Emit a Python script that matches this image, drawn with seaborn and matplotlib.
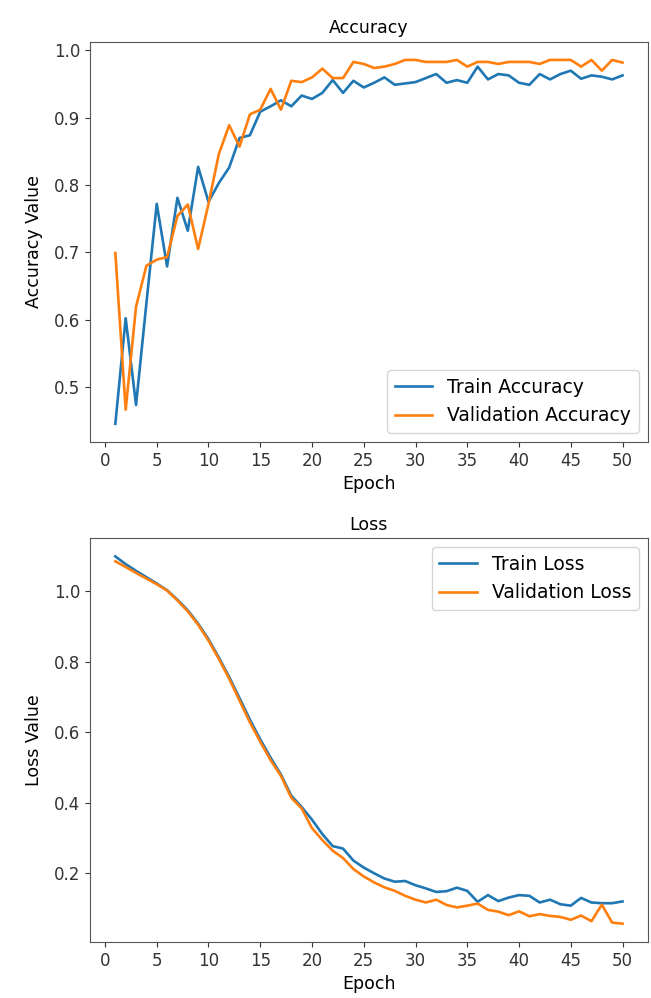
import numpy as np
import pandas as pd
import matplotlib
matplotlib.use("Agg")
import matplotlib.pyplot as plt
from matplotlib.ticker import MultipleLocator
import seaborn as sns

epochs = list(range(1, 51))

train_acc = [0.445, 0.602, 0.473, 0.624, 0.772, 0.679, 0.781, 0.732, 0.827, 0.775,
             0.803, 0.826, 0.870, 0.874, 0.909, 0.917, 0.926, 0.917, 0.933, 0.928,
             0.937, 0.956, 0.937, 0.955, 0.945, 0.952, 0.960, 0.949, 0.951, 0.953,
             0.959, 0.965, 0.952, 0.956, 0.952, 0.976, 0.957, 0.965, 0.963, 0.952,
             0.949, 0.965, 0.957, 0.965, 0.970, 0.958, 0.963, 0.961, 0.957, 0.963]

val_acc = [0.699, 0.466, 0.619, 0.680, 0.689, 0.693, 0.754, 0.771, 0.705, 0.772,
           0.846, 0.889, 0.857, 0.905, 0.912, 0.943, 0.912, 0.955, 0.953, 0.960,
           0.973, 0.959, 0.959, 0.983, 0.980, 0.974, 0.976, 0.980, 0.986, 0.986,
           0.983, 0.983, 0.983, 0.986, 0.976, 0.983, 0.983, 0.980, 0.983, 0.983,
           0.983, 0.980, 0.986, 0.986, 0.986, 0.976, 0.986, 0.970, 0.986, 0.982]

train_loss = [1.099, 1.077, 1.058, 1.040, 1.022, 1.003, 0.976, 0.946, 0.908, 0.864,
              0.812, 0.757, 0.697, 0.636, 0.580, 0.528, 0.480, 0.420, 0.388, 0.352,
              0.311, 0.277, 0.270, 0.236, 0.216, 0.200, 0.185, 0.176, 0.178, 0.166,
              0.157, 0.147, 0.149, 0.159, 0.150, 0.119, 0.138, 0.121, 0.131, 0.138,
              0.136, 0.117, 0.125, 0.112, 0.108, 0.130, 0.117, 0.115, 0.115, 0.120]

val_loss = [1.085, 1.069, 1.052, 1.036, 1.020, 1.002, 0.974, 0.943, 0.905, 0.860,
            0.808, 0.752, 0.690, 0.628, 0.573, 0.521, 0.476, 0.414, 0.384, 0.328,
            0.294, 0.264, 0.243, 0.212, 0.191, 0.174, 0.160, 0.150, 0.136, 0.125,
            0.117, 0.125, 0.110, 0.103, 0.108, 0.114, 0.096, 0.091, 0.081, 0.092,
            0.078, 0.084, 0.079, 0.076, 0.068, 0.080, 0.064, 0.111, 0.060, 0.057]

acc_labels = ["Train Accuracy", "Validation Accuracy"]
loss_labels = ["Train Loss", "Validation Loss"]
colors = ["#1f77b4", "#ff7f0e"]


def long_frame(series, labels):
    parts = [pd.DataFrame({"Epoch": epochs, "value": vals, "series": lab})
             for vals, lab in zip(series, labels)]
    return pd.concat(parts, ignore_index=True)


acc_df = long_frame([train_acc, val_acc], acc_labels)
loss_df = long_frame([train_loss, val_loss], loss_labels)

plt.rcParams["font.family"] = ["DejaVu Sans"]
fig = plt.figure(figsize=(6.51, 9.98), dpi=100)
ax1 = fig.add_axes([0.1382, 0.5571, 0.857, 0.4011])
ax2 = fig.add_axes([0.1382, 0.0561, 0.857, 0.4048])

sns.lineplot(data=acc_df, x="Epoch", y="value", hue="series", hue_order=acc_labels,
             palette=colors, linewidth=1.9, ax=ax1)
sns.lineplot(data=loss_df, x="Epoch", y="value", hue="series", hue_order=loss_labels,
             palette=colors, linewidth=1.9, ax=ax2)

for ax, title, ylab, loc in [(ax1, "Accuracy", "Accuracy Value", "lower right"),
                             (ax2, "Loss", "Loss Value", "upper right")]:
    ax.set_title(title, fontsize=12.5)
    ax.set_xlabel("Epoch", fontsize=12.5)
    ax.set_ylabel(ylab, fontsize=12.5, labelpad=8)
    ax.xaxis.set_major_locator(MultipleLocator(5))
    ax.tick_params(labelsize=12, colors="#333333")
    for s in ax.spines.values():
        s.set_color("#555555")
    ax.legend(loc=loc, fontsize=13.5, title=None)

ax1.yaxis.set_major_locator(MultipleLocator(0.1))
ax2.yaxis.set_major_locator(MultipleLocator(0.2))

fig.savefig("out.png", dpi=100)
